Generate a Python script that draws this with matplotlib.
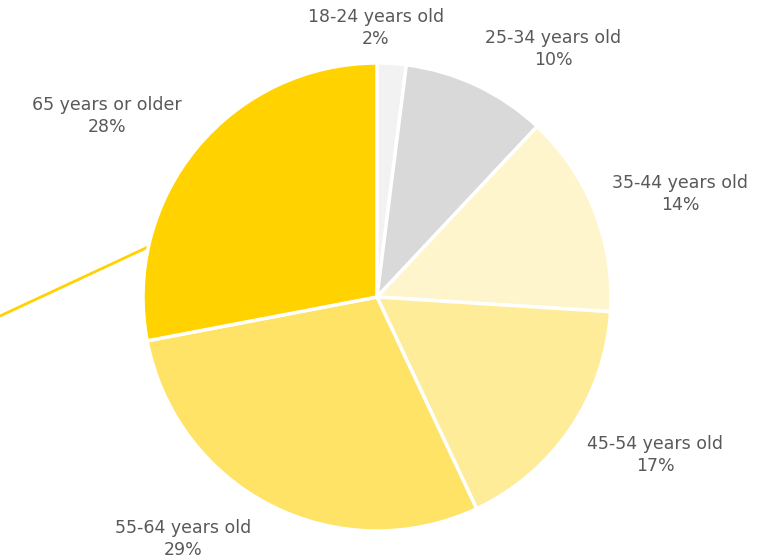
import matplotlib
matplotlib.use("Agg")
import matplotlib.pyplot as plt

# Age distribution of respondents
labels = ["18-24 years old", "25-34 years old", "35-44 years old",
          "45-54 years old", "55-64 years old", "65 years or older"]
shares = [2, 10, 14, 17, 29, 28]
colors = ["#f2f2f2", "#d9d9d9", "#fff5cc", "#ffec99", "#ffe366", "#ffd200"]

# label anchor positions (canvas pixels, y measured from the top)
label_x = [376, 553, 680, 655, 183, 107]
label_y = [28, 49, 194, 455, 539, 116]

W, H = 774, 560
fig = plt.figure(figsize=(W / 100, H / 100), dpi=100)
ax = fig.add_axes([0, 0, 1, 1])
ax.set_xlim(0, W)
ax.set_ylim(0, H)
ax.axis("off")

cx, cy, r = 377, H - 297, 234
ax.pie(shares, colors=colors, startangle=90, counterclock=False,
       center=(cx, cy), radius=r,
       wedgeprops=dict(edgecolor="white", linewidth=2.5))
ax.set_xlim(0, W)
ax.set_ylim(0, H)
ax.set_aspect("equal")

for lab, v, x, y in zip(labels, shares, label_x, label_y):
    ax.text(x, H - y, f"{lab}\n{v}%", ha="center", va="center",
            fontsize=12.5, color="#595959", linespacing=1.25,
            family="DejaVu Sans")

# leader line from the oldest group's wedge
ax.plot([148, 0], [H - 247, H - 316], color="#ffd200", lw=2,
        solid_capstyle="butt", zorder=0)

fig.savefig("out.png", dpi=100)
